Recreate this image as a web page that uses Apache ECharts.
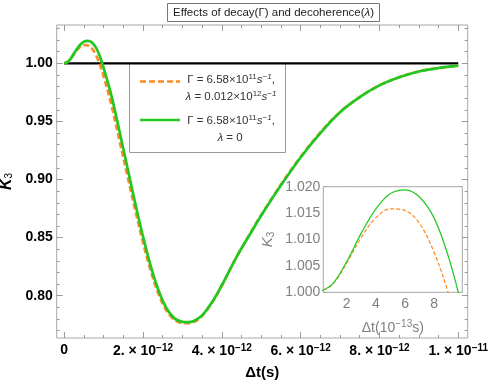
<!DOCTYPE html>
<html><head><meta charset="utf-8">
<script src="https://cdn.jsdelivr.net/npm/echarts@6/dist/echarts.min.js"></script>
<style>html,body{margin:0;padding:0;background:#fff}#c{width:491px;height:382px}</style>
</head><body><div id="c"></div>
<script>
// time in units of 1e-12 s
const tMain = [0, 0.1, 0.2, 0.3, 0.4, 0.5, 0.6, 0.7, 0.8, 0.9, 1.0, 1.2, 1.4, 1.6, 1.8, 2.0, 2.2, 2.4, 2.6, 2.8, 3.0, 3.15, 3.3, 3.5, 3.8, 4.0, 4.2, 4.4, 4.7, 5.0, 5.5, 6.0, 6.5, 7.0, 7.5, 8.0, 8.5, 9.0, 9.5, 10.0];
// Γ = 6.58e11, λ = 0.012e12 (orange dashed)
const kDecoh = [1.000, 1.0014, 1.0055, 1.0104, 1.0141, 1.0158, 1.0155, 1.0130, 1.0075, 0.9995, 0.989, 0.964, 0.934, 0.904, 0.874, 0.846, 0.821, 0.801, 0.787, 0.7792, 0.7765, 0.7763, 0.7775, 0.7825, 0.7965, 0.8085, 0.822, 0.835, 0.8525, 0.8695, 0.8955, 0.9195, 0.9405, 0.958, 0.971, 0.981, 0.988, 0.993, 0.996, 0.998];
// Γ = 6.58e11, λ = 0 (green)
const kNoDecoh = [1.000, 1.0015, 1.0058, 1.0112, 1.0158, 1.0187, 1.0194, 1.0180, 1.0140, 1.0065, 0.996, 0.972, 0.942, 0.911, 0.880, 0.851, 0.825, 0.804, 0.789, 0.7805, 0.7775, 0.7772, 0.7785, 0.783, 0.797, 0.809, 0.822, 0.835, 0.852, 0.869, 0.895, 0.919, 0.940, 0.958, 0.971, 0.981, 0.988, 0.993, 0.996, 0.998];
const refT = [0, 10];
const refK = [1, 1];
const xMajor = [0, 2, 4, 6, 8, 10];
const yMajor = [0.80, 0.85, 0.90, 0.95, 1.00];
const insetXMajor = [2, 4, 6, 8];
const insetYMajor = [1.000, 1.005, 1.010, 1.015, 1.020];
const insetMaxT = 1.0; // inset shows first 1e-12 s, in units of 1e-13 s

const ORANGE = '#ff8a26', GREEN = '#22c722', FRAME = '#a8a8a8', TICK = '#999';
const FONT = '"Liberation Sans", Arial, sans-serif';

function range(a, b, s) { const r = []; for (let v = a; v <= b + 1e-9; v += s) r.push(+v.toFixed(6)); return r; }
const xMinor = range(0, 10, 0.5);
const yMinor = range(0.77, 1.03, 0.01);
const insetXMinor = range(0.5, 9.5, 0.5);
const insetYMinor = range(1.001, 1.019, 0.001);

const pairs = (xs, ys) => xs.map((x, i) => [x, ys[i]]);
const insetPairs = (ys) => tMain.map((t, i) => [t * 10, ys[i]]).filter((p, i) => tMain[i] <= insetMaxT);

function tickAxis(kind, grid, pos, min, max, vals, len, extra) {
  return Object.assign({
    type: 'value', gridIndex: grid, position: pos, min: min, max: max,
    axisLine: { show: false, onZero: false },
    axisTick: { show: true, inside: true, length: len, customValues: vals, lineStyle: { color: TICK } },
    axisLabel: { show: false },
    splitLine: { show: false }
  }, extra || {});
}

const xLabRich = {
  b: { fontFamily: FONT, fontWeight: 'bold', fontSize: 14, color: '#000' },
  sup: { fontFamily: FONT, fontWeight: 'bold', fontSize: 10, color: '#000', padding: [0, 0, 7, 0] }
};
function xFmt(v) {
  if (Math.abs(v) < 1e-9) return '{b|0}';
  if (Math.abs(v - 10) < 1e-9) return '{b|1. × 10}{sup|−11}';
  return '{b|' + Math.round(v) + '. × 10}{sup|−12}';
}

const XMIN = -0.19, XMAX = 10.24, YMIN = 0.7636, YMAX = 1.033;
const IXMIN = 0.4, IXMAX = 9.92, IYMIN = 1.0, IYMAX = 1.02;

const xAxes = [
  tickAxis('x', 0, 'bottom', XMIN, XMAX, xMajor, 6, {
    axisLabel: { show: true, customValues: xMajor, formatter: xFmt, rich: xLabRich, margin: 5 },
    name: '{n|Δt(s)}', nameLocation: 'middle', nameGap: 27,
    nameTextStyle: { rich: { n: { fontFamily: FONT, fontWeight: 'bold', fontSize: 15, color: '#000' } } }
  }),
  tickAxis('x', 0, 'bottom', XMIN, XMAX, xMinor, 3),
  tickAxis('x', 0, 'top', XMIN, XMAX, xMajor, 6),
  tickAxis('x', 0, 'top', XMIN, XMAX, xMinor, 3),
  tickAxis('x', 1, 'bottom', IXMIN, IXMAX, insetXMajor, 4, {
    axisLabel: { show: true, customValues: insetXMajor, fontFamily: FONT, fontSize: 14, color: '#808080', margin: 5 },
    name: '{n|Δt(10}{sup|−13}{n|s)}', nameLocation: 'middle', nameGap: 27,
    nameTextStyle: { rich: {
      n: { fontFamily: FONT, fontSize: 14, color: '#808080' },
      sup: { fontFamily: FONT, fontSize: 10, color: '#808080', padding: [0, 0, 7, 0] } } }
  }),
  tickAxis('x', 1, 'bottom', IXMIN, IXMAX, insetXMinor, 2),
  tickAxis('x', 1, 'top', IXMIN, IXMAX, insetXMajor, 4),
  tickAxis('x', 1, 'top', IXMIN, IXMAX, insetXMinor, 2)
];
const yAxes = [
  tickAxis('y', 0, 'left', YMIN, YMAX, yMajor, 6, {
    axisLabel: { show: true, customValues: yMajor, formatter: v => v.toFixed(2), fontFamily: FONT, fontWeight: 'bold', fontSize: 14, color: '#000', margin: 4 },
    name: '{k|K}{s|3}', nameLocation: 'middle', nameGap: 34, nameRotate: 90,
    nameTextStyle: { rich: {
      k: { fontFamily: FONT, fontWeight: 'bold', fontStyle: 'italic', fontSize: 16, color: '#000' },
      s: { fontFamily: FONT, fontSize: 10, color: '#000', padding: [6, 0, 0, 0] } } }
  }),
  tickAxis('y', 0, 'left', YMIN, YMAX, yMinor, 3),
  tickAxis('y', 0, 'right', YMIN, YMAX, yMajor, 6),
  tickAxis('y', 0, 'right', YMIN, YMAX, yMinor, 3),
  tickAxis('y', 1, 'left', IYMIN, IYMAX, insetYMajor, 4, {
    axisLabel: { show: true, customValues: insetYMajor, formatter: v => v.toFixed(3), fontFamily: FONT, fontSize: 14, color: '#808080', margin: 3 },
    name: '{k|K}{s|3}', nameLocation: 'middle', nameGap: 47, nameRotate: 90,
    nameTextStyle: { rich: {
      k: { fontFamily: FONT, fontStyle: 'italic', fontSize: 15, color: '#808080' },
      s: { fontFamily: FONT, fontSize: 10, color: '#808080', padding: [6, 0, 0, 0] } } }
  }),
  tickAxis('y', 1, 'left', IYMIN, IYMAX, insetYMinor, 2),
  tickAxis('y', 1, 'right', IYMIN, IYMAX, insetYMajor, 4),
  tickAxis('y', 1, 'right', IYMIN, IYMAX, insetYMinor, 2)
];

const legRich = {
  n: { fontFamily: FONT, fontSize: 11.5, fill: '#333' },
  i: { fontFamily: FONT, fontSize: 11.5, fontStyle: 'italic', fill: '#333' },
  sup: { fontFamily: FONT, fontSize: 8, fill: '#333', padding: [0, 0, 6, 0] },
  isup: { fontFamily: FONT, fontSize: 8, fontStyle: 'italic', fill: '#333', padding: [0, 0, 6, 0] }
};
function legText(x, y, txt) {
  return { type: 'text', x: x, y: y, z: 5, style: { text: txt, rich: legRich, align: 'center', verticalAlign: 'middle', fill: '#333' } };
}

const chart = echarts.init(document.getElementById('c'), null, { renderer: 'canvas' });
chart.setOption({
  animation: false,
  backgroundColor: '#fff',
  title: {
    text: '{a|Effects of decay(Γ) and decoherence(}{i|λ}{a|)}',
    left: 167, top: 3, padding: [4, 6, 3, 6],
    borderColor: '#777', borderWidth: 1, backgroundColor: '#fff',
    textStyle: { fontWeight: 'normal', rich: {
      a: { fontFamily: FONT, fontSize: 11.5, fontWeight: 'normal', color: '#222' },
      i: { fontFamily: FONT, fontSize: 11.5, fontWeight: 'normal', fontStyle: 'italic', color: '#222' } } }
  },
  grid: [
    { left: 56.7, top: 25, width: 411, height: 313, show: true, borderColor: FRAME, borderWidth: 1, backgroundColor: '#fff', containLabel: false, outerBoundsMode: 'none' },
    { left: 323.3, top: 186.7, width: 139, height: 105.6, show: true, borderColor: FRAME, borderWidth: 1, backgroundColor: '#fff', z: 3, containLabel: false, outerBoundsMode: 'none' }
  ],
  xAxis: xAxes,
  yAxis: yAxes,
  graphic: [
    { type: 'rect', z: 1, shape: { x: 129.5, y: 63.5, width: 156, height: 89 }, style: { fill: 'rgba(0,0,0,0)', stroke: '#999', lineWidth: 1 } },
    { type: 'line', z: 5, shape: { x1: 140, y1: 81.5, x2: 180, y2: 81.5 }, style: { stroke: ORANGE, lineWidth: 2.6, lineDash: [6, 3] } },
    legText(231, 80, '{n|Γ = 6.58×10}{sup|11}{i|s}{isup|−1}{n|,}'),
    legText(231, 97, '{i|λ}{n| = 0.012×10}{sup|12}{i|s}{isup|−1}'),
    { type: 'line', z: 5, shape: { x1: 140, y1: 120, x2: 180, y2: 120 }, style: { stroke: GREEN, lineWidth: 2.6 } },
    legText(231, 121, '{n|Γ = 6.58×10}{sup|11}{i|s}{isup|−1}{n|,}'),
    legText(230, 138, '{i|λ}{n| = 0}')
  ],
  series: [
    { type: 'line', xAxisIndex: 0, yAxisIndex: 0, data: pairs(refT, refK), showSymbol: false, symbol: 'none',
      lineStyle: { color: '#000', width: 2.2 }, z: 2 },
    { type: 'line', xAxisIndex: 0, yAxisIndex: 0, data: pairs(tMain, kDecoh), showSymbol: false, symbol: 'none', smooth: 0.35,
      lineStyle: { color: ORANGE, width: 2.7, type: [6, 3] }, z: 3 },
    { type: 'line', xAxisIndex: 0, yAxisIndex: 0, data: pairs(tMain, kNoDecoh), showSymbol: false, symbol: 'none', smooth: 0.35,
      lineStyle: { color: GREEN, width: 2.7 }, z: 4 },
    { type: 'line', xAxisIndex: 4, yAxisIndex: 4, data: insetPairs(kDecoh), showSymbol: false, symbol: 'none', smooth: 0.35, clip: true,
      lineStyle: { color: ORANGE, width: 1.2, type: [4, 2] }, z: 5 },
    { type: 'line', xAxisIndex: 4, yAxisIndex: 4, data: insetPairs(kNoDecoh), showSymbol: false, symbol: 'none', smooth: 0.35, clip: true,
      lineStyle: { color: GREEN, width: 1.2 }, z: 6 }
  ]
});
</script></body></html>
